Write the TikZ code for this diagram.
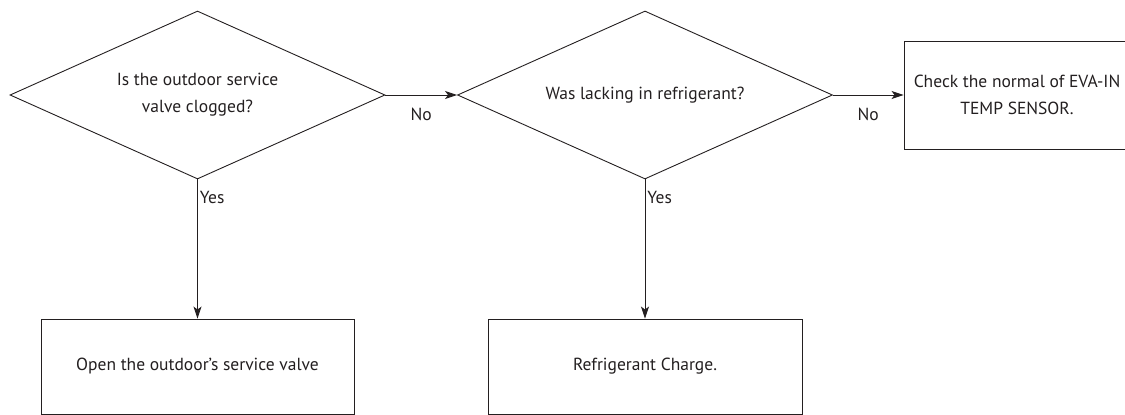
\documentclass[tikz,border=0pt]{standalone}
\usepackage{fontspec}
\setmainfont{PT Sans}
\usetikzlibrary{shapes.geometric,arrows.meta}
\definecolor{ink}{HTML}{231F20}
\begin{document}
\begin{tikzpicture}[x=1pt,y=-1pt,
  font=\fontsize{17.5}{27}\selectfont,
  every node/.style={text=ink},
  decision/.style={draw=ink,line width=0.9pt,shape=diamond,inner sep=0pt,aspect=2.23,
    minimum width=375pt,minimum height=168pt,align=center},
  action/.style={draw=ink,line width=0.9pt,shape=rectangle,inner sep=0pt,align=center},
  flow/.style={draw=ink,line width=0.9pt,-{Stealth[length=12pt,width=8pt,inset=3pt]}},
  lbl/.style={inner sep=2pt}]
\useasboundingbox (0,0) rectangle (1125,415);
\clip (0,0) rectangle (1125,415);
\node[decision] (d1) at (197.5,95) {Is the outdoor service\\valve clogged?};
\node[decision] (d2) at (645,95) {Was lacking in refrigerant?};
\node[action,minimum width=226pt,minimum height=108pt] (b3) at (1017,95)
  {Check the normal of EVA-IN\\TEMP SENSOR.};
\node[action,minimum width=313pt,minimum height=95pt] (b1) at (197.5,366.5)
  {Open the outdoor's service valve};
\node[action,minimum width=314pt,minimum height=95pt] (b2) at (645,366.5)
  {Refrigerant Charge.};
\draw[flow] (d1.east) -- node[lbl,below=11pt] {No} (d2.west);
\draw[flow] (d2.east) -- node[lbl,below=11pt] {No} (b3.west);
\draw[flow] (d1.south) -- (d1.south |- b1.north) node[lbl,pos=0.07,anchor=north west] {Yes};
\draw[flow] (d2.south) -- (d2.south |- b2.north) node[lbl,pos=0.07,anchor=north west] {Yes};
\end{tikzpicture}
\end{document}
